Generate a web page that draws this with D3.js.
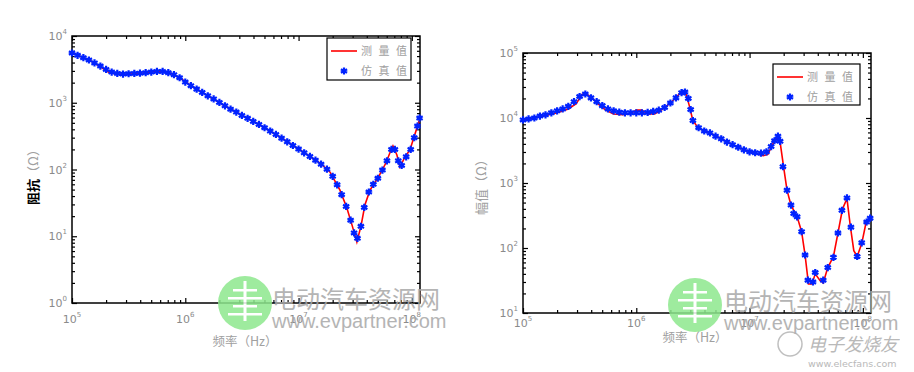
<!DOCTYPE html>
<html>
<head>
<meta charset="utf-8">
<script src="https://cdn.jsdelivr.net/npm/d3@7"></script>
<style>
body { margin: 0; background: #fff; }
text { font-family: "Noto Sans CJK SC", "DejaVu Sans", sans-serif; }
</style>
</head>
<body>
<div id="chart_box"></div>
<script>
// left panel: impedance, measured (line) and simulated (markers)
var leftMeasFreq = [1.00e5, 1.53e5, 2.16e5, 2.82e5, 4.24e5, 5.98e5, 7.33e5, 8.97e5, 1.17e6, 1.65e6,
    2.33e6, 3.50e6, 4.56e6, 6.85e6, 1.03e7, 1.55e7, 1.89e7, 2.32e7, 2.67e7, 2.96e7,
    3.27e7, 3.56e7, 3.85e7, 4.27e7, 5.02e7, 5.90e7, 6.55e7, 6.81e7, 7.38e7, 7.85e7,
    8.69e7, 9.62e7, 1.045e8, 1.13e8, 1.18e8];
var leftMeasZ = [5600, 4070, 2800, 2650, 2790, 2990, 2790, 2350, 1720, 1220,
    863, 592, 465, 307, 196, 125, 92, 49, 26.5, 14.8,
    8.2, 14.3, 29.4, 49, 75, 125, 196, 225, 165, 109,
    154, 196, 307, 465, 592];

var leftSimFreq = [1.00e5, 1.12e5, 1.26e5, 1.41e5, 1.58e5, 1.78e5, 2.00e5, 2.24e5, 2.51e5, 2.82e5,
    3.16e5, 3.55e5, 3.98e5, 4.47e5, 5.01e5, 5.62e5, 6.31e5, 7.08e5, 7.94e5, 8.91e5,
    1.00e6, 1.12e6, 1.26e6, 1.41e6, 1.58e6, 1.78e6, 2.00e6, 2.24e6, 2.51e6, 2.82e6,
    3.16e6, 3.55e6, 3.98e6, 4.47e6, 5.01e6, 5.62e6, 6.31e6, 7.08e6, 7.94e6, 8.91e6,
    1.00e7, 1.12e7, 1.26e7, 1.41e7, 1.58e7, 1.78e7, 2.00e7, 2.19e7, 2.40e7, 2.63e7,
    2.88e7, 3.09e7, 3.31e7, 3.55e7, 3.80e7, 4.17e7, 4.57e7, 5.01e7, 5.50e7, 6.03e7,
    6.61e7, 7.08e7, 7.59e7, 8.13e7, 8.91e7, 9.77e7, 1.05e8, 1.12e8, 1.17e8];
var leftSimZ = [5560, 5130, 4730, 4370, 3950, 3550, 3160, 2880, 2750, 2690,
    2720, 2750, 2770, 2820, 2880, 2950, 2950, 2820, 2630, 2370,
    2040, 1800, 1600, 1430, 1270, 1140, 1010, 900, 800, 725,
    645, 585, 525, 473, 422, 376, 335, 295, 260, 229,
    202, 178, 157, 138, 120, 101, 79, 59, 42, 28,
    17.4, 11.2, 9.3, 14.1, 27, 46, 60, 74, 98, 135,
    200, 200, 135, 115, 155, 200, 300, 447, 590];

// right panel: magnitude
var rightMeasFreq = [1.00e5, 1.26e5, 1.58e5, 2.00e5, 2.51e5, 2.95e5, 3.31e5, 3.63e5, 3.98e5, 4.57e5,
    5.37e5, 6.31e5, 7.59e5, 8.91e5, 1.00e6, 1.12e6, 1.26e6, 1.45e6, 1.66e6, 2.00e6,
    2.29e6, 2.51e6, 2.75e6, 2.95e6, 3.16e6, 3.55e6, 4.47e6, 5.62e6, 7.08e6, 8.91e6,
    1.12e7, 1.32e7, 1.45e7, 1.58e7, 1.74e7, 1.86e7, 2.00e7, 2.14e7, 2.32e7, 2.63e7,
    2.88e7, 3.09e7, 3.31e7, 3.55e7, 3.80e7, 4.17e7, 4.47e7, 4.90e7, 5.50e7, 6.03e7,
    6.61e7, 7.24e7, 7.76e7, 8.32e7, 8.91e7, 9.77e7, 1.07e8, 1.17e8];
var rightMeasZ = [9310, 10000, 10960, 12000, 13800, 16600, 22900, 23400, 20900, 16600,
    13200, 11500, 11200, 11700, 13200, 13200, 11500, 11500, 13200, 17000,
    21400, 25700, 23400, 15100, 9120, 6920, 5890, 4790, 3890, 3240,
    2880, 2630, 2750, 3800, 5010, 4270, 1740, 776, 457, 302,
    178, 78, 28, 28, 40, 32, 29, 50, 74, 170,
    398, 575, 214, 91, 74, 117, 251, 288];

var rightSimFreq = [1.00e5, 1.12e5, 1.26e5, 1.41e5, 1.58e5, 1.78e5, 2.00e5, 2.24e5, 2.51e5, 2.82e5,
    3.16e5, 3.55e5, 3.98e5, 4.47e5, 5.01e5, 5.62e5, 6.31e5, 7.08e5, 7.94e5, 8.91e5,
    1.00e6, 1.12e6, 1.26e6, 1.41e6, 1.58e6, 1.78e6, 2.00e6, 2.24e6, 2.51e6, 2.69e6,
    2.88e6, 3.02e6, 3.16e6, 3.55e6, 3.98e6, 4.47e6, 5.01e6, 5.62e6, 6.31e6, 7.08e6,
    7.94e6, 8.91e6, 1.00e7, 1.12e7, 1.26e7, 1.41e7, 1.55e7, 1.66e7, 1.78e7, 1.86e7,
    1.97e7, 2.14e7, 2.32e7, 2.45e7, 2.63e7, 2.88e7, 3.09e7, 3.27e7, 3.63e7, 3.80e7,
    4.47e7, 4.90e7, 5.50e7, 6.03e7, 6.53e7, 7.24e7, 7.85e7, 8.91e7, 9.77e7, 1.08e8, 1.16e8];
var rightSimZ = [9330, 9660, 10000, 10700, 11200, 12000, 12900, 13800, 15100, 17800,
    21400, 23400, 20400, 17800, 15500, 13800, 12900, 12300, 12000, 12000,
    12000, 12000, 12200, 12600, 13200, 14500, 17000, 20400, 24500, 25100,
    20000, 13500, 9120, 7080, 6310, 5890, 5250, 4790, 4270, 3890,
    3550, 3240, 3020, 2920, 2880, 3020, 3630, 4470, 5250, 4370,
    1780, 776, 457, 339, 302, 178, 78, 32, 30, 42,
    32, 50, 72, 170, 380, 589, 209, 74, 120, 251, 288];

var xDecades = [5, 6, 7, 8];
var leftYDecades = [0, 1, 2, 3, 4];
var rightYDecades = [1, 2, 3, 4, 5];
var legendLabels = ["测 量 值", "仿 真 值"];

var svg = d3.select("#chart_box").append("svg")
    .attr("width", 914)
    .attr("height", 372);

var tickGrey = "#8a8a8a";

function drawPanel(p) {
    var x = d3.scaleLog().domain([1e5, 1.18e8]).range([p.x0, p.x1]);
    var y = d3.scaleLog().domain(p.ydom).range([p.y1, p.y0]);
    var g = svg.append("g");

    // inward ticks on all four sides
    var isMajor = function (d) { return Math.abs(Math.log10(d) - Math.round(Math.log10(d))) < 1e-6; };
    var xt = x.ticks(), yt = y.ticks();
    var xMinor = xt.filter(function (d) { return !isMajor(d); }), xMajor = xt.filter(isMajor);
    var yMinor = yt.filter(function (d) { return !isMajor(d); }), yMajor = yt.filter(isMajor);

    function axisGroup(axis, tx, ty) {
        var a = g.append("g").attr("transform", "translate(" + tx + "," + ty + ")").call(axis);
        a.select(".domain").remove();
        a.selectAll("line").attr("stroke", "#000").attr("stroke-width", 1.2);
        a.selectAll("text").remove();
    }
    [[xMinor, 3], [xMajor, 5]].forEach(function (s) {
        axisGroup(d3.axisBottom(x).tickValues(s[0]).tickSize(-s[1]).tickFormat(""), 0, p.y1);
        axisGroup(d3.axisTop(x).tickValues(s[0]).tickSize(-s[1]).tickFormat(""), 0, p.y0);
    });
    [[yMinor, 3], [yMajor, 5]].forEach(function (s) {
        axisGroup(d3.axisLeft(y).tickValues(s[0]).tickSize(-s[1]).tickFormat(""), p.x0, 0);
        axisGroup(d3.axisRight(y).tickValues(s[0]).tickSize(-s[1]).tickFormat(""), p.x1, 0);
    });

    g.append("rect")
        .attr("x", p.x0).attr("y", p.y0)
        .attr("width", p.x1 - p.x0).attr("height", p.y1 - p.y0)
        .attr("fill", "none").attr("stroke", "#000").attr("stroke-width", 1.5);

    // tick labels 10^n
    xDecades.forEach(function (n) {
        var t = g.append("text")
            .attr("x", x(Math.pow(10, n))).attr("y", p.y1 + p.xLabDy)
            .attr("text-anchor", "middle")
            .attr("fill", tickGrey).style("font-size", "11px")
            .style("font-family", "'DejaVu Sans', sans-serif");
        t.append("tspan").text("10");
        t.append("tspan").attr("dy", -6).style("font-size", "7px").text(n);
    });
    p.yDecades.forEach(function (n) {
        var t = g.append("text")
            .attr("x", p.x0 - 5).attr("y", y(Math.pow(10, n)) + 4)
            .attr("text-anchor", "end")
            .attr("fill", tickGrey).style("font-size", "11px")
            .style("font-family", "'DejaVu Sans', sans-serif");
        t.append("tspan").text("10");
        t.append("tspan").attr("dy", -6).style("font-size", "7px").text(n);
    });

    // measured line
    var line = d3.line()
        .x(function (d) { return x(d[0]); })
        .y(function (d) { return y(d[1]); });
    g.append("path")
        .datum(d3.zip(p.measF, p.measZ))
        .attr("d", line)
        .attr("fill", "none")
        .attr("stroke", "#ff0000")
        .attr("stroke-width", 1.6);

    // simulated markers
    var star = d3.symbol().type(d3.symbolAsterisk).size(36);
    g.selectAll(".sim")
        .data(d3.zip(p.simF, p.simZ))
        .enter().append("path")
        .attr("class", "sim")
        .attr("transform", function (d) { return "translate(" + x(d[0]) + "," + y(d[1]) + ")"; })
        .attr("d", star)
        .attr("fill", "none")
        .attr("stroke", "#0022ff")
        .attr("stroke-width", 2.2);

    // legend
    var L = p.legend;
    g.append("rect")
        .attr("x", L.x).attr("y", L.y).attr("width", L.w).attr("height", L.h)
        .attr("fill", "#fff").attr("stroke", "#000").attr("stroke-width", 1.2);
    g.append("line")
        .attr("x1", L.x + 4).attr("x2", L.x + 30)
        .attr("y1", L.y + 13).attr("y2", L.y + 13)
        .attr("stroke", "#ff0000").attr("stroke-width", 1.6);
    g.append("path")
        .attr("transform", "translate(" + (L.x + 17) + "," + (L.y + 33) + ")")
        .attr("d", star)
        .attr("fill", "none").attr("stroke", "#0022ff").attr("stroke-width", 2.2);
    legendLabels.forEach(function (s, i) {
        g.append("text")
            .attr("x", L.x + 34).attr("y", L.y + 17 + i * 20)
            .attr("fill", "#a0a0a0")
            .style("font-size", "11px")
            .style("letter-spacing", "2px")
            .text(s);
    });

    // axis titles
    g.append("text")
        .attr("x", p.xTitle[0]).attr("y", p.xTitle[1])
        .attr("text-anchor", "middle")
        .attr("fill", "#a0a0a0").style("font-size", "12.5px")
        .text("频率（Hz）");
    var yt2 = g.append("text")
        .attr("transform", "translate(" + p.yTitle[0] + "," + p.yTitle[1] + ") rotate(-90)")
        .attr("text-anchor", "middle")
        .style("font-size", "13px");
    yt2.append("tspan").attr("fill", p.yTitleColor).style("font-weight", p.yTitleWeight).text(p.yTitleMain);
    yt2.append("tspan").attr("fill", "#a0a0a0").text("（Ω）");
}

drawPanel({
    x0: 72, x1: 420, y0: 36, y1: 303, ydom: [1, 1e4], yDecades: leftYDecades, xLabDy: 20,
    measF: leftMeasFreq, measZ: leftMeasZ, simF: leftSimFreq, simZ: leftSimZ,
    legend: { x: 327, y: 38, w: 84, h: 42 },
    xTitle: [245, 346], yTitle: [38, 174],
    yTitleMain: "阻抗", yTitleColor: "#000", yTitleWeight: "bold"
});
drawPanel({
    x0: 523, x1: 871, y0: 53, y1: 313, ydom: [10, 1e5], yDecades: rightYDecades, xLabDy: 14,
    measF: rightMeasFreq, measZ: rightMeasZ, simF: rightSimFreq, simZ: rightSimZ,
    legend: { x: 773, y: 64, w: 87, h: 41 },
    xTitle: [695, 342], yTitle: [486, 184],
    yTitleMain: "幅值", yTitleColor: "#a0a0a0", yTitleWeight: "normal"
});

// watermarks
function watermark(cx, cy, tx) {
    var w = svg.append("g").attr("opacity", 0.85);
    w.append("circle").attr("cx", cx).attr("cy", cy).attr("r", 27).attr("fill", "#8ee88e");
    [-14, -6, 2, 10].forEach(function (dy, i) {
        w.append("rect")
            .attr("x", cx - (i % 2 ? 17 : 12)).attr("y", cy + dy)
            .attr("width", i % 2 ? 34 : 24).attr("height", 2.5)
            .attr("fill", "#fff");
    });
    w.append("rect").attr("x", cx - 1.5).attr("y", cy - 22).attr("width", 3).attr("height", 40).attr("fill", "#fff");
    w.append("text").attr("x", tx).attr("y", cy + 5)
        .attr("fill", "#a8a8a8").style("font-size", "24px")
        .text("电动汽车资源网");
    w.append("text").attr("x", tx).attr("y", cy + 25)
        .attr("fill", "#a8a8a8").style("font-size", "20px")
        .style("font-family", "'Liberation Sans', sans-serif")
        .text("www.evpartner.com");
}
watermark(245, 303, 272);
watermark(695, 305, 724);

var ef = svg.append("g").attr("opacity", 0.8);
ef.append("circle").attr("cx", 790).attr("cy", 344).attr("r", 12)
    .attr("fill", "none").attr("stroke", "#b0b0b0").attr("stroke-width", 1.5);
ef.append("text").attr("x", 808).attr("y", 351)
    .attr("fill", "#a8a8a8").style("font-size", "18px").style("font-style", "italic")
    .text("电子发烧友");
ef.append("text").attr("x", 808).attr("y", 367)
    .attr("fill", "#a8a8a8").style("font-size", "9.5px")
    .style("font-family", "'DejaVu Sans', sans-serif")
    .text("www.elecfans.com");
</script>
</body>
</html>
